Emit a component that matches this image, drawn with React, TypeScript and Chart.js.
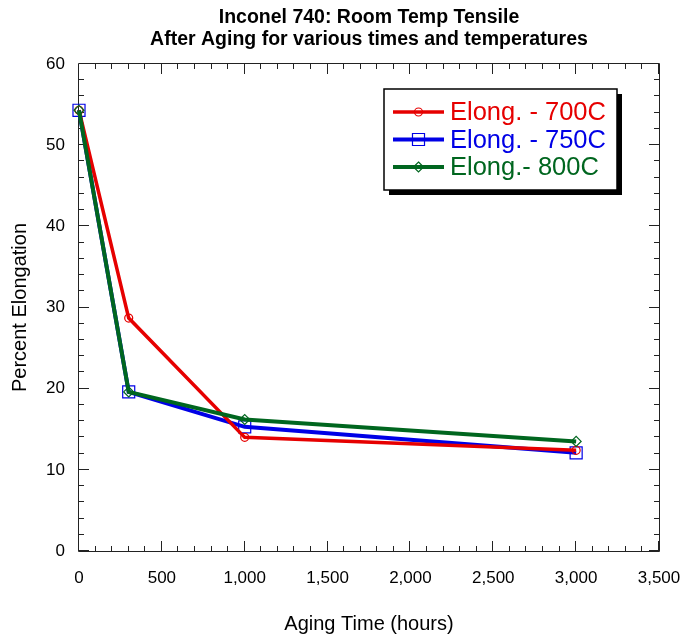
import React, { useEffect, useRef } from 'react';
import { Chart, registerables } from 'chart.js';

Chart.register(...registerables);

const agingHours = [0, 300, 1000, 3000];
const elong700 = [54.3, 28.7, 14.0, 12.4];
const elong750 = [54.3, 19.6, 15.3, 12.1];
const elong800 = [54.3, 19.6, 16.2, 13.5];
const seriesLabels = ['Elong. - 700C', 'Elong. - 750C', 'Elong.- 800C'];
const seriesColors = ['#e60000', '#0000e6', '#00661f'];
const xTickValues = [0, 500, 1000, 1500, 2000, 2500, 3000, 3500];
const yTickValues = [0, 10, 20, 30, 40, 50, 60];
const titleLines = ['Inconel 740: Room Temp Tensile', 'After Aging for various times and temperatures'];
const xTitle = 'Aging Time (hours)';
const yTitle = 'Percent Elongation';

const FONT = "Arial, 'Liberation Sans', Helvetica, sans-serif";

const centeredTitle = {
  id: 'centeredTitle',
  afterDraw(chart: any) {
    const { ctx, chartArea } = chart;
    const cx = (chartArea.left + chartArea.right) / 2;
    ctx.save();
    ctx.fillStyle = '#000';
    ctx.font = `bold 19.5px ${FONT}`;
    ctx.textAlign = 'center';
    ctx.textBaseline = 'middle';
    const ys = [17.5, 39.5];
    titleLines.forEach((t, i) => ctx.fillText(t, cx, ys[i]));
    ctx.restore();
  },
};

const frameTicks = {
  id: 'frameTicks',
  beforeDatasetsDraw(chart: any) {
    const { ctx, chartArea, scales } = chart;
    const { left, right, top, bottom } = chartArea;
    const xs = scales.x;
    const ys = scales.y;
    ctx.save();
    ctx.strokeStyle = '#222';
    ctx.lineWidth = 1;
    ctx.beginPath();
    ctx.rect(Math.round(left) - 0.5, Math.round(top) - 0.5, Math.round(right - left) + 1, Math.round(bottom - top) + 1);
    ctx.stroke();
    ctx.beginPath();
    const xMin = xTickValues[0];
    const xMax = xTickValues[xTickValues.length - 1];
    const xMajor = xTickValues[1] - xTickValues[0];
    const xMinor = xMajor / 5;
    for (let v = xMin; v <= xMax + 1e-6; v += xMinor) {
      const px = Math.round(xs.getPixelForValue(v)) - 0.5;
      const major = Math.abs(v / xMajor - Math.round(v / xMajor)) < 1e-6;
      const len = major ? 10 : 5;
      ctx.moveTo(px, bottom);
      ctx.lineTo(px, bottom - len);
      ctx.moveTo(px, top);
      ctx.lineTo(px, top + len);
    }
    const yMin = yTickValues[0];
    const yMax = yTickValues[yTickValues.length - 1];
    const yMajor = yTickValues[1] - yTickValues[0];
    const yMinor = yMajor / 5;
    for (let v = yMin; v <= yMax + 1e-6; v += yMinor) {
      const py = Math.round(ys.getPixelForValue(v)) - 0.5;
      const major = Math.abs(v / yMajor - Math.round(v / yMajor)) < 1e-6;
      const len = major ? 10 : 5;
      ctx.moveTo(left, py);
      ctx.lineTo(left + len, py);
      ctx.moveTo(right, py);
      ctx.lineTo(right - len, py);
    }
    ctx.stroke();
    ctx.restore();
  },
};

function drawMarker(ctx: CanvasRenderingContext2D, style: string, x: number, y: number, r: number) {
  ctx.beginPath();
  if (style === 'circle') {
    ctx.arc(x, y, r, 0, Math.PI * 2);
  } else if (style === 'rect') {
    const s = Math.SQRT1_2 * r;
    ctx.rect(x - s, y - s, 2 * s, 2 * s);
  } else {
    ctx.moveTo(x, y - r);
    ctx.lineTo(x + r, y);
    ctx.lineTo(x, y + r);
    ctx.lineTo(x - r, y);
    ctx.closePath();
  }
  ctx.stroke();
}

const boxLegend = {
  id: 'boxLegend',
  afterDatasetsDraw(chart: any) {
    const { ctx, chartArea } = chart;
    const bx = chartArea.right - 275;
    const by = chartArea.top + 25;
    const bw = 233;
    const bh = 101;
    ctx.save();
    ctx.fillStyle = '#000';
    ctx.fillRect(bx + 5, by + 5, bw, bh);
    ctx.fillStyle = '#fff';
    ctx.fillRect(bx, by, bw, bh);
    ctx.strokeStyle = '#000';
    ctx.lineWidth = 1.5;
    ctx.strokeRect(bx, by, bw, bh);
    const rowYs = [by + 23, by + 50.5, by + 78];
    chart.data.datasets.forEach((ds: any, i: number) => {
      const y = rowYs[i];
      ctx.strokeStyle = ds.borderColor;
      ctx.lineWidth = ds.borderWidth;
      ctx.beginPath();
      ctx.moveTo(bx + 9, y);
      ctx.lineTo(bx + 60, y);
      ctx.stroke();
      ctx.lineWidth = ds.pointBorderWidth;
      drawMarker(ctx, ds.pointStyle, bx + 34.5, y, ds.pointRadius);
      ctx.fillStyle = ds.borderColor;
      ctx.font = `25.5px ${FONT}`;
      ctx.textAlign = 'left';
      ctx.textBaseline = 'middle';
      ctx.fillText(ds.label, bx + 66, y + 1);
    });
    ctx.restore();
  },
};

function fixAxis(size: number, horizontal: boolean) {
  return (scale: any) => {
    if (horizontal) scale.height = size;
    else scale.width = size;
    scale.paddingLeft = 0;
    scale.paddingRight = 0;
    scale.paddingTop = 0;
    scale.paddingBottom = 0;
  };
}

export default function App() {
  const canvasRef = useRef<HTMLCanvasElement | null>(null);

  useEffect(() => {
    if (!canvasRef.current) return;
    const mk = (ys: number[]) => agingHours.map((x, i) => ({ x, y: ys[i] }));
    const chart = new Chart(canvasRef.current, {
      type: 'line',
      data: {
        datasets: [
          {
            label: seriesLabels[0],
            data: mk(elong700),
            borderColor: seriesColors[0],
            backgroundColor: seriesColors[0],
            borderWidth: 3.5,
            pointStyle: 'circle',
            pointRadius: 4,
            pointBorderWidth: 1.2,
            pointBackgroundColor: 'rgba(0,0,0,0)',
            pointBorderColor: seriesColors[0],
            tension: 0,
            clip: false,
            order: 1,
          },
          {
            label: seriesLabels[1],
            data: mk(elong750),
            borderColor: seriesColors[1],
            backgroundColor: seriesColors[1],
            borderWidth: 4,
            pointStyle: 'rect',
            pointRadius: 8.5,
            pointBorderWidth: 1.2,
            pointBackgroundColor: 'rgba(0,0,0,0)',
            pointBorderColor: seriesColors[1],
            tension: 0,
            clip: false,
            order: 2,
          },
          {
            label: seriesLabels[2],
            data: mk(elong800),
            borderColor: seriesColors[2],
            backgroundColor: seriesColors[2],
            borderWidth: 4,
            pointStyle: 'rectRot',
            pointRadius: 5,
            pointBorderWidth: 1.2,
            pointBackgroundColor: 'rgba(0,0,0,0)',
            pointBorderColor: seriesColors[2],
            tension: 0,
            clip: false,
            order: 0,
          },
        ],
      },
      options: {
        responsive: false,
        animation: false,
        devicePixelRatio: 1,
        layout: { padding: { top: 64, right: 22, bottom: 0, left: 0 } },
        plugins: {
          legend: { display: false },
          tooltip: { enabled: false },
          title: { display: false },
        },
        scales: {
          x: {
            type: 'linear',
            min: xTickValues[0],
            max: xTickValues[xTickValues.length - 1],
            afterBuildTicks: (scale: any) => {
              scale.ticks = xTickValues.map((v) => ({ value: v }));
            },
            afterFit: fixAxis(85, true),
            grid: { display: false, drawTicks: false },
            border: { display: false },
            ticks: {
              color: '#000',
              font: { family: FONT, size: 17 },
              padding: 17,
              maxRotation: 0,
              autoSkip: false,
              callback: (v: any) => Number(v).toLocaleString('en-US'),
            },
            title: {
              display: true,
              text: xTitle,
              color: '#000',
              font: { family: FONT, size: 20 },
              padding: { top: 0, bottom: 0 },
            },
          },
          y: {
            type: 'linear',
            min: yTickValues[0],
            max: yTickValues[yTickValues.length - 1],
            afterBuildTicks: (scale: any) => {
              scale.ticks = yTickValues.map((v) => ({ value: v }));
            },
            afterFit: fixAxis(79, false),
            grid: { display: false, drawTicks: false },
            border: { display: false },
            ticks: {
              color: '#000',
              font: { family: FONT, size: 17 },
              padding: 14,
              autoSkip: false,
              callback: (v: any) => String(v),
            },
            title: {
              display: true,
              text: yTitle,
              color: '#000',
              font: { family: FONT, size: 20 },
              padding: { top: 8, bottom: 0 },
            },
          },
        },
      },
      plugins: [frameTicks, boxLegend, centeredTitle],
    } as any);
    return () => chart.destroy();
  }, []);

  return (
    <div style={{ position: 'absolute', left: 0, top: 0, width: 681, height: 636, background: '#fff' }}>
      <canvas ref={canvasRef} width={681} height={636} style={{ display: 'block' }} />
    </div>
  );
}
